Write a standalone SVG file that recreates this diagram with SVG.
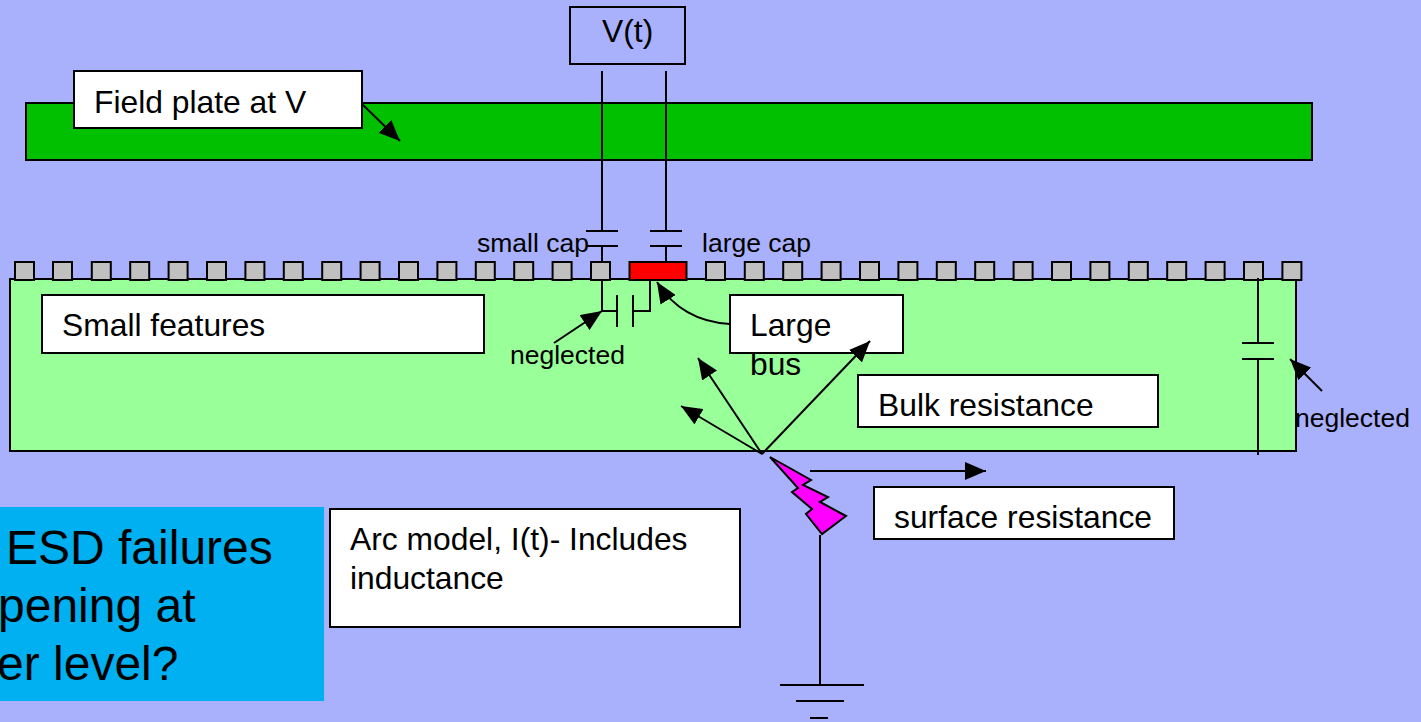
<svg xmlns="http://www.w3.org/2000/svg" width="1421" height="722" viewBox="0 0 1421 722">
<style>
text{font-family:"Liberation Sans",Arial,sans-serif;fill:#000}
.t{font-size:31.8px}.s{font-size:26.5px}
.box{fill:#fff;stroke:#000;stroke-width:2}
.pad{fill:#c0c0c0;stroke:#000;stroke-width:2}
#connectors line,#connectors path{stroke:#000;stroke-width:2;fill:none}
</style>
<defs>
<marker id="a" markerUnits="userSpaceOnUse" markerWidth="22" markerHeight="18" refX="21" refY="9" orient="auto"><path d="M0 0L21 9L0 18Z" fill="#000" stroke="none"/></marker>
</defs>
<rect width="1421" height="722" fill="#a9b1fd"/>
<g id="field-plate-bar"><rect x="26" y="103" width="1286" height="57" fill="#00c000" stroke="#000" stroke-width="2"/></g>
<g id="substrate"><rect x="10" y="279" width="1286" height="172" fill="#99ff99" stroke="#000" stroke-width="2"/></g>
<g id="pads">
<rect class="pad" x="15" y="262" width="19" height="18"/><rect class="pad" x="53" y="262" width="19" height="18"/><rect class="pad" x="91.800" y="262" width="19" height="18"/><rect class="pad" x="130.200" y="262" width="19" height="18"/><rect class="pad" x="168.600" y="262" width="19" height="18"/><rect class="pad" x="207" y="262" width="19" height="18"/><rect class="pad" x="245.400" y="262" width="19" height="18"/><rect class="pad" x="283.800" y="262" width="19" height="18"/><rect class="pad" x="322.200" y="262" width="19" height="18"/><rect class="pad" x="360.600" y="262" width="19" height="18"/><rect class="pad" x="399" y="262" width="19" height="18"/><rect class="pad" x="437.400" y="262" width="19" height="18"/><rect class="pad" x="475.800" y="262" width="19" height="18"/><rect class="pad" x="514.200" y="262" width="19" height="18"/><rect class="pad" x="552.600" y="262" width="19" height="18"/><rect class="pad" x="591" y="262" width="19" height="18"/>
<rect class="pad" x="706" y="262" width="19" height="18"/><rect class="pad" x="744.800" y="262" width="19" height="18"/><rect class="pad" x="783.200" y="262" width="19" height="18"/><rect class="pad" x="821.600" y="262" width="19" height="18"/><rect class="pad" x="860" y="262" width="19" height="18"/><rect class="pad" x="898.400" y="262" width="19" height="18"/><rect class="pad" x="936.800" y="262" width="19" height="18"/><rect class="pad" x="975.200" y="262" width="19" height="18"/><rect class="pad" x="1013.600" y="262" width="19" height="18"/><rect class="pad" x="1052" y="262" width="19" height="18"/><rect class="pad" x="1090.400" y="262" width="19" height="18"/><rect class="pad" x="1128.800" y="262" width="19" height="18"/><rect class="pad" x="1167.200" y="262" width="19" height="18"/><rect class="pad" x="1205.600" y="262" width="19" height="18"/><rect class="pad" x="1244" y="262" width="19" height="18"/><rect class="pad" x="1282.400" y="262" width="19" height="18"/>
</g>
<g id="large-bus-pad"><rect x="629.500" y="262" width="57" height="18" fill="#f00" stroke="#000" stroke-width="2"/></g>
<g id="bolt"><path d="M770 457L811 480L803 485L828 497L820 502L846 516L822 534L806 514L812 509L792 492L798 488Z" fill="#f0f" stroke="#000" stroke-width="2"/></g>
<g id="v-source"><rect x="570" y="7" width="115" height="57" fill="#a9b1fd" stroke="#000" stroke-width="2"/><text class="t" x="602" y="42">V(t)</text></g>
<g id="field-plate"><rect class="box" x="74" y="71" width="288" height="57"/><text class="t" x="94" y="113">Field plate at V</text></g>
<g id="small-features"><rect class="box" x="42" y="295" width="442" height="58"/><text class="t" x="62" y="336">Small features</text></g>
<g id="large-bus"><rect class="box" x="730" y="295" width="173" height="58"/><text class="t" x="750" y="336">Large</text><text class="t" x="750" y="375">bus</text></g>
<g id="bulk-resistance"><rect class="box" x="858" y="375" width="300" height="52"/><text class="t" x="878" y="416">Bulk resistance</text></g>
<g id="surface-resistance"><rect class="box" x="874" y="487" width="300" height="52"/><text class="t" x="894" y="528">surface resistance</text></g>
<g id="arc-model"><rect class="box" x="330" y="509" width="410" height="118"/><text class="t" x="350" y="550">Arc model, I(t)- Includes</text><text class="t" x="350" y="589">inductance</text></g>
<g id="question"><rect x="0" y="507" width="324" height="194" fill="#00b0f0"/>
<text font-size="48" x="6" y="564">ESD failures</text><text font-size="48" x="-2" y="622">pening at</text><text font-size="48" x="-3" y="680">er level?</text></g>
<g id="connectors">
<line x1="602" y1="71" x2="602" y2="231"/><line x1="586" y1="231" x2="618" y2="231"/><line x1="586" y1="246" x2="618" y2="246"/><line x1="602" y1="246" x2="602" y2="262"/>
<line x1="666" y1="71" x2="666" y2="231"/><line x1="650" y1="231" x2="682" y2="231"/><line x1="650" y1="246" x2="682" y2="246"/><line x1="666" y1="246" x2="666" y2="262"/>
<path d="M602 280V311H617M617 295V327M633 295V327M633 311H650V280"/>
<line x1="554" y1="343" x2="602" y2="311" marker-end="url(#a)"/>
<path d="M730 324C695 322 672 306 657 282" marker-end="url(#a)"/>
<line x1="362" y1="104" x2="400" y2="141" marker-end="url(#a)"/>
<line x1="762" y1="454" x2="870" y2="341" marker-end="url(#a)"/>
<line x1="762" y1="454" x2="698" y2="358" marker-end="url(#a)"/>
<line x1="762" y1="454" x2="681" y2="406" marker-end="url(#a)"/>
<line x1="810" y1="471" x2="986" y2="471" marker-end="url(#a)"/>
<line x1="1258" y1="278" x2="1258" y2="343"/><line x1="1242" y1="343" x2="1274" y2="343"/><line x1="1242" y1="359" x2="1274" y2="359"/><line x1="1258" y1="359" x2="1258" y2="455"/>
<line x1="1322" y1="391" x2="1290" y2="359" marker-end="url(#a)"/>
<line x1="820" y1="535" x2="820" y2="685"/><line x1="780" y1="685" x2="864" y2="685"/><line x1="796" y1="701" x2="844" y2="701"/><line x1="810" y1="718" x2="828" y2="718"/>
</g>
<g id="labels"><text class="s" x="477" y="252">small cap</text><text class="s" x="702" y="252">large cap</text><text class="s" x="510" y="364">neglected</text><text class="s" x="1295" y="427">neglected</text></g>
</svg>
